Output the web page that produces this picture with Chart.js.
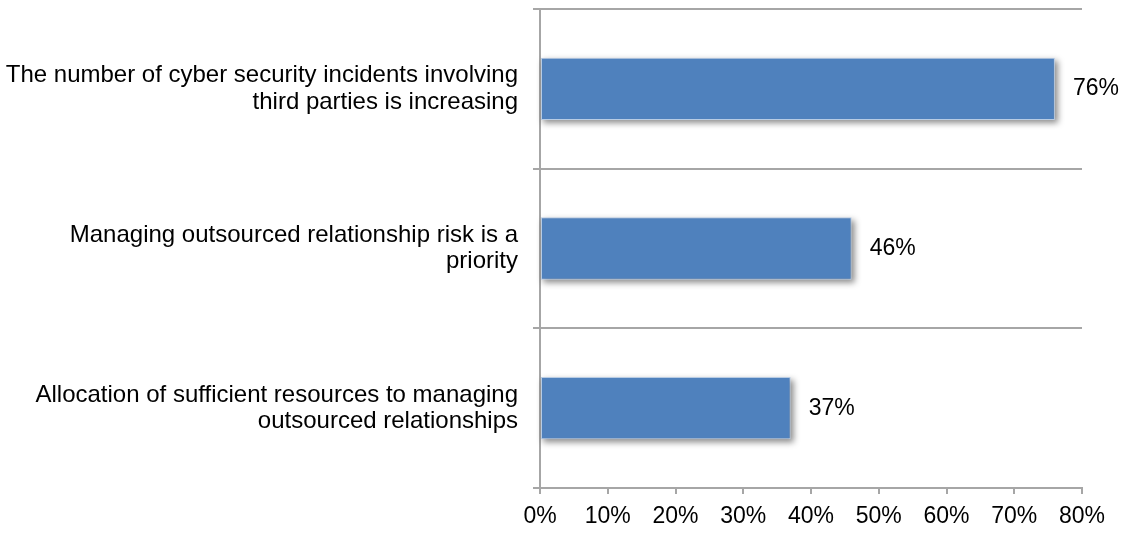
<!DOCTYPE html>
<html>
<head>
<meta charset="utf-8">
<script src="https://cdn.jsdelivr.net/npm/chart.js@4/dist/chart.umd.min.js"></script>
<style>
  html,body{margin:0;padding:0;background:#fff;}
  #wrap{width:1126px;height:533px;}
</style>
</head>
<body>
<div id="wrap"><canvas id="chart" width="1126" height="533"></canvas></div>
<script>
// ----------------- Data -----------------
const categories = [
  ["The number of cyber security incidents involving", "third parties is increasing"],
  ["Managing outsourced relationship risk is a", "priority"],
  ["Allocation of sufficient resources to managing", "outsourced relationships"]
];
const values = [76, 46, 37];
const xTicks = [0, 10, 20, 30, 40, 50, 60, 70, 80];

const FONT = '"Liberation Sans", Arial, sans-serif';
const GRID = "#a6a6a6";

// soft drop shadow behind each bar
const barShadow = {
  id: "barShadow",
  beforeDatasetsDraw(chart){
    const ctx = chart.ctx;
    ctx.save();
    ctx.filter = "blur(3px)";
    ctx.fillStyle = "rgba(0,0,0,0.45)";
    chart.getDatasetMeta(0).data.forEach(bar=>{
      const left = Math.min(bar.base, bar.x);
      const w = Math.abs(bar.x - bar.base);
      ctx.fillRect(left + 2, bar.y - bar.height/2 + 3, w + 1, bar.height);
    });
    ctx.restore();
  }
};

// value labels at the end of the bars
const valueLabels = {
  id: "valueLabels",
  afterDatasetsDraw(chart){
    const ctx = chart.ctx;
    ctx.save();
    ctx.font = "23px " + FONT;
    ctx.fillStyle = "#000";
    ctx.textAlign = "left";
    ctx.textBaseline = "middle";
    chart.getDatasetMeta(0).data.forEach((bar,i)=>{
      ctx.fillText(values[i] + "%", bar.x + 18, bar.y);
    });
    ctx.restore();
  }
};

new Chart(document.getElementById("chart"), {
  type: "bar",
  data: {
    labels: categories,
    datasets: [{
      data: values,
      backgroundColor: "#4f81bd",
      borderColor: "#b8cce4",
      borderWidth: 1,
      borderSkipped: false,
      barPercentage: 0.39,
      categoryPercentage: 1
    }]
  },
  options: {
    indexAxis: "y",
    responsive: false,
    animation: false,
    layout: { padding: { top: 9, right: 44, left: 0, bottom: 0 } },
    plugins: { legend: { display: false }, tooltip: { enabled: false } },
    scales: {
      x: {
        min: 0, max: 80,
        afterBuildTicks: axis => { axis.ticks = xTicks.map(v=>({value:v})); },
        afterFit: axis => { axis.height = 45; axis.paddingLeft = 0; axis.paddingRight = 0; },
        grid: { drawOnChartArea: false, drawTicks: true, tickLength: 6, color: GRID, lineWidth: 2 },
        border: { display: true, color: GRID, width: 2 },
        ticks: {
          color: "#000",
          padding: 9,
          maxRotation: 0,
          font: { family: FONT, size: 23 },
          callback: v => v + "%"
        }
      },
      y: {
        afterFit: axis => { axis.width = 540; axis.paddingTop = 0; axis.paddingBottom = 0; },
        grid: { offset: true, drawTicks: true, tickLength: 7, color: GRID, lineWidth: 2 },
        border: { display: true, color: GRID, width: 2 },
        ticks: {
          color: "#000",
          padding: 15,
          font: { family: FONT, size: 24, lineHeight: 1.1 }
        }
      }
    }
  },
  plugins: [barShadow, valueLabels]
});
</script>
</body>
</html>
